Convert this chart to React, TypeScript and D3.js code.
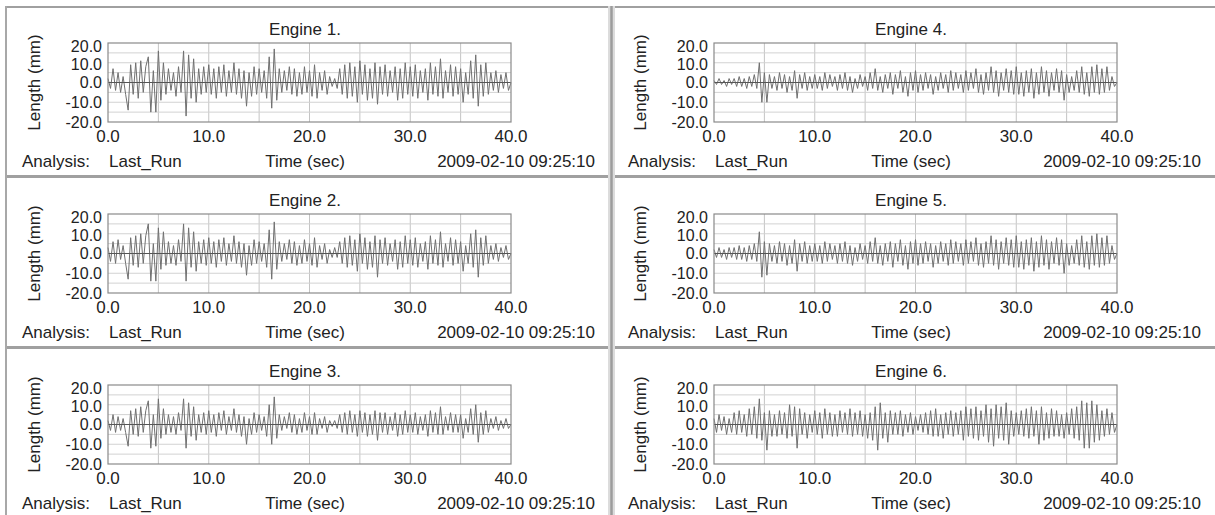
import React from 'react';
import * as d3 from 'd3';

// sampled every 0.25 s, 0..40 s
const engine1 = [
  2,-3,7,-4,5,-5,3,-6, -14,9,-6,10,-8,11,-5,8, 13,-15,6,-15,16,-9,10,-6, 7,-4,5,-7,8,-5,16,-17,
  14,-8,12,-10,7,-6,8,-5, 9,-6,7,-8,8,-5,9,-7, 6,-5,10,-6,7,-8,6,-12, 5,-7,8,-6,7,-5,6,-8,
  13,-13,17,-9,7,-5,6,-4, 8,-6,7,-7,5,-6,8,-5, 6,-7,9,-8,5,-4,6,-6, 3,-2,2,-3,7,-6,9,-8,
  10,-7,8,-10,11,-6,9,-9, 7,-8,10,-11,8,-6,9,-7, 6,-5,8,-9,7,-8,10,-6, 8,-7,9,-8,6,-5,7,-9,
  10,-6,8,-7,12,-8,6,-5, 9,-7,8,-6,7,-10,5,-6, 11,-8,14,-12,9,-7,10,-6, 5,-4,6,-5,4,-3,5,-4, 0,
];
const engine2 = [
  3,-4,6,-5,7,-3,4,-5, -13,8,-6,9,-7,10,-5,9, 15,-14,5,-14,13,-8,11,-6, 6,-5,4,-6,7,-4,15,-14,
  13,-7,11,-9,6,-5,7,-6, 8,-5,6,-7,7,-4,8,-6, 5,-4,9,-5,6,-7,5,-11, 4,-6,7,-5,6,-4,5,-7,
  12,-13,16,-8,6,-4,5,-3, 7,-5,6,-6,4,-5,7,-4, 5,-6,8,-7,4,-3,5,-5, 2,-2,3,-2,6,-5,8,-7,
  9,-6,7,-9,10,-5,8,-8, 6,-7,9,-12,7,-5,8,-6, 5,-4,7,-8,6,-7,9,-5, 7,-6,8,-7,5,-4,6,-8,
  9,-5,7,-6,11,-7,5,-4, 8,-6,7,-5,6,-9,4,-5, 10,-7,12,-12,8,-6,9,-5, 4,-3,5,-4,3,-2,4,-3, 0,
];
const engine3 = [
  2,-3,5,-4,4,-3,3,-4, -11,7,-5,8,-6,9,-4,7, 12,-12,5,-11,13,-7,8,-5, 5,-4,4,-5,6,-3,13,-12,
  11,-6,9,-8,5,-4,6,-5, 7,-4,5,-6,6,-3,7,-5, 4,-3,8,-4,5,-6,4,-10, 3,-5,6,-4,5,-3,4,-6,
  10,-10,14,-7,5,-3,4,-2, 6,-4,5,-5,3,-4,6,-3, 4,-5,6,-5,3,-2,4,-4, 2,-1,2,-2,5,-4,6,-5,
  7,-4,5,-6,7,-4,6,-6, 5,-5,7,-8,6,-4,6,-5, 4,-3,6,-6,5,-5,7,-4, 5,-4,6,-5,4,-3,5,-6,
  7,-4,6,-5,9,-5,4,-3, 6,-4,5,-4,5,-7,3,-4, 8,-5,10,-9,6,-5,7,-4, 3,-2,4,-3,2,-2,3,-2, 0,
];
const engine4 = [
  1,-1,2,-1,1,-2,2,-1, 2,-2,3,-2,2,-3,3,-2, 4,-3,10,-10,5,-10,4,-3, 3,-4,5,-3,4,-5,3,-4,
  6,-8,4,-3,5,-4,3,-3, 4,-3,3,-4,5,-3,4,-2, 3,-4,4,-3,5,-4,3,-5, 2,-3,4,-2,3,-4,5,-3,
  7,-4,3,-5,4,-3,5,-6, 4,-3,6,-5,3,-7,5,-4, 6,-5,4,-4,5,-3,4,-6, 3,-4,5,-3,4,-5,6,-4,
  5,-3,4,-5,6,-4,5,-3, 7,-5,4,-6,5,-4,8,-5, 6,-7,5,-4,7,-5,6,-6, 8,-6,5,-7,6,-5,7,-8,
  5,-6,8,-5,6,-7,5,-4, 7,-5,6,-9,4,-5,3,-4, 6,-5,8,-6,5,-7,8,-5, 9,-6,7,-5,8,-4,3,-2, 0,
];
const engine5 = [
  2,-2,3,-2,2,-3,3,-2, 3,-3,4,-3,3,-4,4,-3, 5,-4,11,-12,6,-11,5,-4, 4,-5,6,-4,5,-6,4,-5,
  7,-9,5,-4,6,-5,4,-4, 5,-4,4,-5,6,-4,5,-3, 4,-5,5,-4,6,-5,4,-6, 3,-4,5,-3,4,-5,6,-4,
  8,-5,4,-6,5,-4,6,-7, 5,-4,7,-6,4,-8,6,-5, 7,-6,5,-5,6,-4,5,-7, 4,-5,6,-4,5,-6,7,-5,
  6,-4,5,-6,7,-5,6,-4, 8,-6,5,-7,6,-5,9,-6, 7,-8,6,-5,8,-6,7,-7, 9,-7,6,-8,7,-6,8,-9,
  6,-7,9,-6,7,-8,6,-5, 8,-6,7,-10,5,-6,4,-5, 7,-6,9,-7,6,-8,9,-6, 10,-7,8,-6,9,-5,4,-3, 0,
];
const engine6 = [
  3,-4,5,-3,4,-5,3,-4, 6,-5,7,-4,5,-6,8,-5, 9,-7,13,-8,6,-13,7,-6, 5,-6,7,-5,6,-7,10,-6,
  9,-12,8,-5,6,-7,5,-4, 7,-5,6,-7,8,-5,6,-6, 5,-6,7,-4,6,-5,8,-6, 6,-5,7,-6,5,-7,6,-8,
  9,-13,11,-7,6,-9,7,-5, 6,-5,7,-6,5,-4,6,-5, 4,-3,5,-4,6,-5,7,-6, 8,-6,5,-7,6,-5,7,-6,
  6,-5,7,-8,9,-6,8,-7, 9,-8,7,-6,10,-9,8,-11, 10,-7,9,-8,11,-10,7,-6, 6,-5,7,-6,8,-7,9,-6,
  7,-10,9,-8,6,-7,8,-6, 7,-6,5,-7,6,-5,8,-7, 9,-8,12,-12,11,-12,12,-9, 10,-8,7,-6,8,-5,6,-4, 0,
];

const engines = [engine1, engine2, engine3, engine4, engine5, engine6];
const engineNames = ['Engine 1.', 'Engine 2.', 'Engine 3.', 'Engine 4.', 'Engine 5.', 'Engine 6.'];
const sampleStep = 0.25;
const xTicks = [0, 10, 20, 30, 40];
const yTicks = [-20, -10, 0, 10, 20];
const xGrid = [5, 10, 15, 20, 25, 30, 35];
const yGrid = [-15, -10, -5, 5, 10, 15];
const analysisName = 'Last_Run';
const xTitle = 'Time (sec)';
const yTitle = 'Length (mm)';
const stamp = '2009-02-10 09:25:10';

const font = '"Liberation Sans", Arial, sans-serif';
const fs = 17;
const txt = '#222';
// small nudges so the stacked y labels do not collide
const yLabelShift: Record<number, number> = { 20: 3, 10: 1.5, 0: 0, '-10': 0, '-20': 0.5 };

function Panel({ idx }: { idx: number }) {
  const col = idx < 3 ? 0 : 1;
  const row = idx % 3;
  const ox = col * 606;
  const oy = row * 171;
  const x = d3.scaleLinear().domain([0, 40]).range([108 + ox, 511 + ox]);
  const y = d3.scaleLinear().domain([-20, 20]).range([122 + oy, 43 + oy]);
  const data = engines[idx];
  const line = d3.line<number>()
    .x((_, i) => x(i * sampleStep))
    .y(d => y(d));
  const cx = 305 + ox;
  return (
    <g fontFamily={font} fontSize={fs} fill={txt}>
      <text x={cx} y={35 + oy} textAnchor="middle">{engineNames[idx]}</text>
      {xGrid.map(v => (
        <line key={'xg' + v} x1={x(v)} x2={x(v)} y1={y(-20)} y2={y(20)} stroke="#c4c4c4" strokeWidth={1} />
      ))}
      {yGrid.map(v => (
        <line key={'yg' + v} x1={x(0)} x2={x(40)} y1={y(v)} y2={y(v)} stroke="#d2d2d2" strokeWidth={1} />
      ))}
      <path d={line(data) || ''} fill="none" stroke="#707070" strokeWidth={1} />
      <line x1={x(0)} x2={x(40)} y1={y(0)} y2={y(0)} stroke="#555" strokeWidth={1.2} />
      <rect x={x(0)} y={y(20)} width={x(40) - x(0)} height={y(-20) - y(20)} fill="none" stroke="#8a8a8a" strokeWidth={1.2} />
      {yTicks.map(v => (
        <text key={'yt' + v} x={x(0) - 6} y={y(v) + yLabelShift[v]} dy="0.35em" fontSize={16} textAnchor="end">{v.toFixed(1)}</text>
      ))}
      {xTicks.map(v => (
        <text key={'xt' + v} x={x(v)} y={142 + oy} textAnchor="middle">{v.toFixed(1)}</text>
      ))}
      <text transform={`translate(${40 + ox},${y(0)}) rotate(-90)`} textAnchor="middle">{yTitle}</text>
      <text x={22 + ox} y={167 + oy}>Analysis:</text>
      <text x={109 + ox} y={167 + oy}>{analysisName}</text>
      <text x={cx} y={167 + oy} textAnchor="middle">{xTitle}</text>
      <text x={595 + ox} y={167 + oy} textAnchor="end">{stamp}</text>
    </g>
  );
}

export default function App() {
  const W = 1215;
  const H = 515;
  return (
    <svg width={W} height={H} style={{ position: 'absolute', left: 0, top: 0, background: '#fff' }}>
      <rect x={0} y={0} width={W} height={H} fill="#fff" />
      {/* frames */}
      <line x1={5} x2={W} y1={7} y2={7} stroke="#a0a0a0" strokeWidth={2} />
      <line x1={5} x2={W} y1={176.5} y2={176.5} stroke="#a0a0a0" strokeWidth={3} />
      <line x1={5} x2={W} y1={347.5} y2={347.5} stroke="#a0a0a0" strokeWidth={3} />
      <line x1={6} x2={6} y1={6} y2={H} stroke="#a8a8a8" strokeWidth={2} />
      <rect x={608} y={6} width={7} height={H} fill="#dcdcdc" />
      <line x1={611.5} x2={611.5} y1={6} y2={H} stroke="#9c9c9c" strokeWidth={2.5} />
      {engines.map((_, i) => <Panel key={i} idx={i} />)}
    </svg>
  );
}
